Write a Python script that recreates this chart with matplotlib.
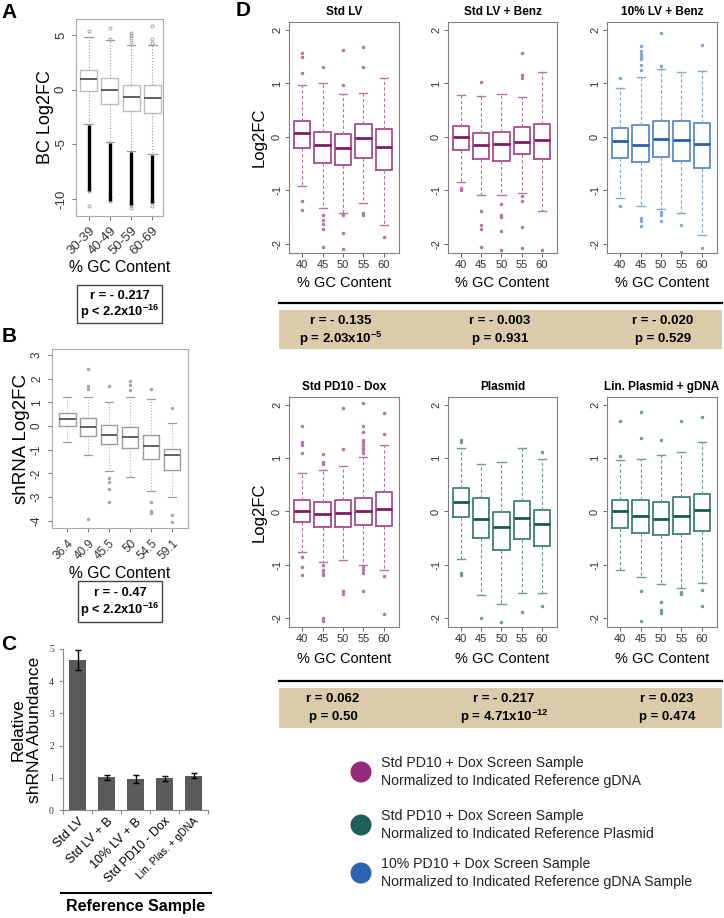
import numpy as np
import matplotlib.pyplot as plt
from matplotlib.patches import Rectangle, Circle

plt.rcParams['font.family'] = ['Liberation Sans', 'DejaVu Sans']
plt.rcParams['mathtext.fontset'] = 'custom'
plt.rcParams['mathtext.rm'] = 'Liberation Sans'
plt.rcParams['mathtext.bf'] = 'Liberation Sans:bold'

W, H = 724, 918

# ---------------- data ----------------
# Panel A - barcode log2FC by GC bin
a_labels = ['30-39', '40-49', '50-59', '60-69']
a_med = [1.0, 0.0, -0.7, -0.8]
a_q1 = [-0.1, -1.28, -1.92, -2.1]
a_q3 = [1.83, 1.07, 0.46, 0.4]
a_lo = [-3.1, -4.8, -5.6, -5.9]
a_hi = [4.8, 4.55, 4.1, 4.1]
a_dense_top = [-3.2, -4.9, -5.7, -6.0]
a_dense_bot = [-9.3, -10.2, -10.5, -10.4]
a_out = [[5.4, -9.0, -9.3, -10.6],
         [4.6, 5.6, -9.8, -10.2],
         [4.4, 4.7, 5.0, 5.2, -10.2, -10.5, -10.8],
         [4.3, 4.6, 5.8, -10.0, -10.3, -10.6]]

# Panel B - shRNA log2FC by GC
b_labels = ['36.4', '40.9', '45.5', '50', '54.5', '59.1']
b_med = [0.28, -0.04, -0.37, -0.46, -0.85, -1.22]
b_q1 = [0.01, -0.42, -0.76, -0.94, -1.41, -1.86]
b_q3 = [0.54, 0.32, 0.06, -0.04, -0.37, -0.96]
b_lo = [-0.69, -1.2, -1.9, -2.14, -2.76, -3.01]
b_hi = [1.21, 1.24, 1.0, 1.21, 1.15, 0.11]
b_out = [[],
         [1.55, 1.7, 2.4, -3.9],
         [1.7, -2.2, -2.35, -2.65, -3.2],
         [1.5, 1.75, 1.9],
         [1.55, -3.2, -3.6, -3.65],
         [0.75, -3.75, -4.05]]

# Panel C - relative shRNA abundance
c_labels = ['Std LV', 'Std LV + B', '10% LV + B', 'Std PD10 - Dox', 'Lin. Plas. + gDNA']
c_vals = [4.65, 1.01, 0.97, 0.99, 1.06]
c_err = [0.31, 0.09, 0.13, 0.08, 0.08]

# Panel D - six reference comparisons
gc_ticks = ['40', '45', '50', '55', '60']

lv_med = [0.07, -0.15, -0.2, -0.01, -0.19]
lv_q1 = [-0.21, -0.49, -0.53, -0.4, -0.61]
lv_q3 = [0.30, 0.09, 0.06, 0.24, 0.14]
lv_lo = [-0.91, -1.32, -1.43, -1.23, -1.65]
lv_hi = [0.98, 1.01, 0.8, 0.83, 1.11]
lv_out = [[1.2, 1.5, 1.57, -1.2, -1.37], [1.31, -1.45, -1.55, -1.62, -1.72, -2.05],
          [0.98, 1.62, -1.45, -1.8, -2.1], [1.3, 1.68, -1.42, -1.45], [-1.87]]

lvb_med = [0.0, -0.15, -0.13, -0.09, -0.05]
lvb_q1 = [-0.24, -0.42, -0.45, -0.31, -0.42]
lvb_q3 = [0.21, 0.08, 0.09, 0.19, 0.24]
lvb_lo = [-0.85, -1.09, -1.08, -1.05, -1.38]
lvb_hi = [0.79, 0.77, 0.8, 0.75, 1.21]
lvb_out = [[-0.95, -1.0], [1.03, -1.38, -1.65, -1.73, -2.05],
           [-1.25, -1.45, -1.5, -1.76, -2.12], [1.1, 1.15, 1.57, -1.1, -1.2, -1.68, -2.07], [-2.12]]

lv10_med = [-0.08, -0.15, -0.04, -0.06, -0.13]
lv10_q1 = [-0.39, -0.47, -0.37, -0.45, -0.58]
lv10_q3 = [0.17, 0.22, 0.29, 0.29, 0.27]
lv10_lo = [-1.14, -1.3, -1.35, -1.43, -1.84]
lv10_hi = [0.91, 1.13, 1.28, 1.22, 1.23]
lv10_out = [[1.1, -1.3], [1.25, 1.35, 1.45, 1.5, 1.55, 1.6, 1.7, -1.52, -1.57, -1.67],
            [1.33, 1.95, -1.4, -1.45, -1.57], [-1.65, -2.15], [1.72, -2.07]]

pd_med = [0.0, -0.04, -0.03, 0.0, 0.04]
pd_q1 = [-0.19, -0.29, -0.29, -0.25, -0.27]
pd_q3 = [0.21, 0.17, 0.22, 0.26, 0.36]
pd_lo = [-0.77, -0.95, -0.92, -1.0, -1.1]
pd_hi = [0.72, 0.77, 0.85, 1.02, 1.25]
pd_out = [[1.1, 1.25, 1.3, 1.6, -0.85, -1.05, -1.2],
          [0.9, 0.92, 1.08, -1.0, -1.1, -1.15, -1.2, -2.0, -2.05],
          [1.18, 1.95, -1.5, -1.55],
          [1.1, 1.15, 1.2, 1.25, 1.3, 1.35, 1.5, 1.6, 2.03, -1.05, -1.1, -1.15, -1.5],
          [1.45, 1.85, -1.22, -1.93]]

pl_med = [0.17, -0.14, -0.29, -0.13, -0.24]
pl_q1 = [-0.11, -0.49, -0.73, -0.51, -0.64]
pl_q3 = [0.44, 0.25, -0.01, 0.19, 0.02]
pl_lo = [-0.9, -1.56, -1.74, -1.53, -1.54]
pl_hi = [1.19, 0.9, 0.92, 1.2, 0.98]
pl_out = [[1.3, 1.35, -1.15, -1.2], [-2.0], [-2.08], [-1.88], [1.12, -1.77]]

lin_med = [0.0, -0.09, -0.15, -0.09, 0.03]
lin_q1 = [-0.31, -0.41, -0.44, -0.43, -0.37]
lin_q3 = [0.22, 0.22, 0.17, 0.27, 0.33]
lin_lo = [-1.09, -1.24, -1.36, -1.43, -1.34]
lin_hi = [0.96, 0.98, 1.07, 1.11, 1.3]
lin_out = [[1.05, 1.7], [1.38, 1.86, -1.5, -2.05], [1.35, -1.7, -1.85, -1.9],
           [1.7, -1.52, -1.55], [1.77, -1.47, -1.77]]

d_titles = ['Std LV', 'Std LV + Benz', '10% LV + Benz', 'Std PD10 - Dox', 'Plasmid', 'Lin. Plasmid + gDNA']
d_r = ['r = - 0.135', 'r = - 0.003', 'r = - 0.020', 'r = 0.062', 'r = - 0.217', 'r = 0.023']
d_p = ['p = 2.03x10$^{\\mathbf{-5}}$', 'p = 0.931', 'p = 0.529',
       'p = 0.50', 'p = 4.71x10$^{\\mathbf{-12}}$', 'p = 0.474']

legend_text = ['Std PD10 + Dox Screen Sample\nNormalized to Indicated Reference gDNA',
               'Std PD10 + Dox Screen Sample\nNormalized to Indicated Reference Plasmid',
               '10% PD10 + Dox Screen Sample\nNormalized to Indicated Reference gDNA Sample']

# colours: (box edge, median, whisker, legend dot)
purple = ('#a84b91', '#7d1d64', '#b873a6', '#952a7d')
teal = ('#3e7f78', '#1b5853', '#6c9c97', '#1d5f59')
blue = ('#5b8bc7', '#2a5ea8', '#83a6d3', '#2d65b0')


def fbox(x0, y0, x1, y1):
    return [x0 / W, 1 - y1 / H, (x1 - x0) / W, (y1 - y0) / H]


def make_stats(med, q1, q3, lo, hi, out):
    return [dict(med=m, q1=a, q3=b, whislo=l, whishi=h, fliers=f)
            for m, a, b, l, h, f in zip(med, q1, q3, lo, hi, out)]


def rot_yticks(ax):
    for lab in ax.get_yticklabels():
        lab.set_rotation(90)
        lab.set_va('center')


fig = plt.figure(figsize=(W / 100, H / 100), dpi=100)

# overlay for free text, lines and boxes in pixel units
ov = fig.add_axes([0, 0, 1, 1], zorder=10)
ov.set_xlim(0, W)
ov.set_ylim(H, 0)
ov.axis('off')
ov.patch.set_visible(False)

for letter, (lx, ly) in zip('ABCD', [(9, 12), (9, 337), (9, 645), (243, 10)]):
    ov.text(lx, ly, letter, fontsize=15, fontweight='bold', ha='center', va='center')

# ---------------- Panel A ----------------
axA = fig.add_axes(fbox(76, 19, 163, 216))
posA = np.arange(1, len(a_labels) + 1)
axA.vlines(posA, a_dense_bot, a_dense_top, color='black', lw=2.4, zorder=3)
axA.bxp(make_stats(a_med, a_q1, a_q3, a_lo, a_hi, a_out), positions=posA, widths=0.8,
        capwidths=0.4, manage_ticks=False,
        boxprops=dict(color='#bdbdbd', lw=1.0),
        medianprops=dict(color='#444444', lw=1.2),
        whiskerprops=dict(color='#9a9a9a', lw=0.8, ls=':'),
        capprops=dict(color='#9a9a9a', lw=0.9),
        flierprops=dict(marker='o', ms=2.2, mfc='none', mec='#9a9a9a', mew=0.6))
axA.set_xlim(0.4, 4.5)
axA.set_ylim(-11.55, 6.46)
axA.set_yticks([5, 0, -5, -10])
axA.set_yticklabels(['5', '0', '-5', '-10'])
axA.set_xticks(posA)
axA.set_xticklabels(a_labels, rotation=45, ha='right', rotation_mode='anchor')
axA.tick_params(labelsize=9.5, labelcolor='#333333', color='#777777', length=3, width=0.7)
rot_yticks(axA)
for s in axA.spines.values():
    s.set_color('#aaaaaa')
axA.set_ylabel('BC Log2FC', fontsize=13, labelpad=1)
ov.text(120, 268, '% GC Content', fontsize=11.3, ha='center', va='center')
ov.add_patch(Rectangle((77, 285), 85, 38, fill=False, ec='#444444', lw=1))
ov.text(120, 296, 'r = - 0.217', fontsize=9.3, fontweight='bold', ha='center', va='center')
ov.text(120, 312, 'p < 2.2x10$^{\\mathbf{-16}}$', fontsize=9.3, fontweight='bold', ha='center', va='center')

# ---------------- Panel B ----------------
axB = fig.add_axes(fbox(52, 349, 188, 528))
posB = np.arange(1, len(b_labels) + 1)
axB.bxp(make_stats(b_med, b_q1, b_q3, b_lo, b_hi, b_out), positions=posB, widths=0.8,
        capwidths=0.4, manage_ticks=False,
        boxprops=dict(color='#9c9c9c', lw=1.0),
        medianprops=dict(color='#555555', lw=1.3),
        whiskerprops=dict(color='#b0b0b0', lw=0.8, ls=':'),
        capprops=dict(color='#9c9c9c', lw=0.9),
        flierprops=dict(marker='o', ms=1.5, mfc='#a8a8a8', mec='#a8a8a8'))
axB.set_xlim(0.28, 6.76)
axB.set_ylim(-4.3, 3.25)
axB.set_yticks([3, 2, 1, 0, -1, -2, -3, -4])
axB.set_yticklabels(['3', '2', '1', '0', '-1', '-2', '-3', '-4'])
axB.set_xticks(posB)
axB.set_xticklabels(b_labels, rotation=45, ha='right', rotation_mode='anchor')
axB.tick_params(labelsize=8.5, labelcolor='#333333', color='#777777', length=3, width=0.7)
rot_yticks(axB)
for s in axB.spines.values():
    s.set_color('#aaaaaa')
axB.set_ylabel('shRNA Log2FC', fontsize=13.5, labelpad=1)
ov.text(120, 574, '% GC Content', fontsize=11.3, ha='center', va='center')
ov.add_patch(Rectangle((78, 581), 84, 41, fill=False, ec='#444444', lw=1))
ov.text(120, 593, 'r = - 0.47', fontsize=9.3, fontweight='bold', ha='center', va='center')
ov.text(120, 610, 'p < 2.2x10$^{\\mathbf{-16}}$', fontsize=9.3, fontweight='bold', ha='center', va='center')

# ---------------- Panel C ----------------
axC = fig.add_axes(fbox(63, 649, 208, 810))
posC = np.arange(len(c_labels))
axC.bar(posC, c_vals, width=0.6, color='#5a5a5a', yerr=c_err, capsize=2,
        error_kw=dict(elinewidth=1, ecolor='black', capthick=1))
axC.set_xlim(-0.5, len(c_labels) - 0.5)
axC.set_ylim(0, 5)
axC.set_yticks([0, 1, 2, 3, 4, 5])
axC.set_xticks(np.arange(-0.5, len(c_labels), 1))
axC.set_xticklabels([])
axC.set_xticks(posC, minor=True)
axC.set_xticklabels(c_labels, minor=True, rotation=45, ha='right', rotation_mode='anchor')
axC.tick_params(axis='x', which='minor', length=0, labelsize=9, pad=4)
axC.tick_params(axis='x', which='major', length=3, color='#888888')
axC.tick_params(axis='y', length=3, color='#888888', labelsize=7)
axC.get_xticklabels(minor=True)[-1].set_fontsize(7.5)
for lab in axC.get_yticklabels():
    lab.set_family('Liberation Serif')
    lab.set_color('#333333')
axC.spines['top'].set_visible(False)
axC.spines['right'].set_visible(False)
axC.spines['left'].set_color('#888888')
axC.spines['bottom'].set_color('#888888')
axC.set_ylabel('Relative\nshRNA Abundance', fontsize=12.5, labelpad=5, linespacing=1.15)
ov.plot([61, 211], [893, 893], color='black', lw=1.5)
ov.text(136, 907, 'Reference Sample', fontsize=11.5, fontweight='bold', ha='center', va='center')

# ---------------- Panel D ----------------
d_stats = [make_stats(lv_med, lv_q1, lv_q3, lv_lo, lv_hi, lv_out),
           make_stats(lvb_med, lvb_q1, lvb_q3, lvb_lo, lvb_hi, lvb_out),
           make_stats(lv10_med, lv10_q1, lv10_q3, lv10_lo, lv10_hi, lv10_out),
           make_stats(pd_med, pd_q1, pd_q3, pd_lo, pd_hi, pd_out),
           make_stats(pl_med, pl_q1, pl_q3, pl_lo, pl_hi, pl_out),
           make_stats(lin_med, lin_q1, lin_q3, lin_lo, lin_hi, lin_out)]
d_colors = [purple, purple, blue, purple, teal, teal]
col_x = [(289, 399), (448, 557), (607, 717)]
row_y = [(22, 253), (397, 627)]
posD = np.arange(1, 6)

for i, st in enumerate(d_stats):
    r, c = divmod(i, 3)
    x0, x1 = col_x[c]
    y0, y1 = row_y[r]
    box_c, med_c, wh_c, _ = d_colors[i]
    ax = fig.add_axes(fbox(x0, y0, x1, y1))
    ax.bxp(st, positions=posD, widths=0.8, capwidths=0.4, manage_ticks=False,
           boxprops=dict(color=box_c, lw=1.3),
           medianprops=dict(color=med_c, lw=2.0),
           whiskerprops=dict(color=wh_c, lw=0.8, ls=(0, (3, 2))),
           capprops=dict(color=wh_c, lw=1.0),
           flierprops=dict(marker='o', ms=1.5, mfc=wh_c, mec=wh_c))
    ax.set_xlim(0.35, 5.75)
    ax.set_ylim(-2.17, 2.15)
    ax.set_yticks([2, 1, 0, -1, -2])
    ax.set_yticklabels(['2', '1', '0', '-1', '-2'])
    ax.set_xticks(posD)
    ax.set_xticklabels(gc_ticks)
    ax.tick_params(labelsize=8, labelcolor='#333333', color='#666666', length=3, width=0.7, pad=2)
    rot_yticks(ax)
    for s in ax.spines.values():
        s.set_color('#808080')
    ax.set_title(d_titles[i], fontsize=8.5, fontweight='bold', pad=5)
    ax.text(0.5, -0.13 if r == 0 else -0.14, '% GC Content', transform=ax.transAxes,
            fontsize=10.5, ha='center', va='center')
    if c == 0:
        ax.set_ylabel('Log2FC', fontsize=12, labelpad=4)

# stat bands under each row of panel D
band_x = [[341, 500, 663], [333, 504, 667]]
for r, (line_y, band_y0, band_y1) in enumerate([(303, 310, 349), (681, 688, 728)]):
    ov.plot([279, 722], [line_y, line_y], color='black', lw=1.6)
    ov.add_patch(Rectangle((279, band_y0), 443, band_y1 - band_y0, color='#dccbab', lw=0))
    for c in range(3):
        cx = band_x[r][c]
        ov.text(cx, band_y0 + 11, d_r[r * 3 + c], fontsize=9.5, fontweight='bold', ha='center', va='center')
        ov.text(cx, band_y0 + 29, d_p[r * 3 + c], fontsize=9.5, fontweight='bold', ha='center', va='center')

# legend
for ly, txt, col in zip([772, 825, 873], legend_text, [purple, teal, blue]):
    ov.add_patch(Circle((361, ly), 10.5, color=col[3], lw=0))
    ov.text(381, ly, txt, fontsize=10.2, ha='left', va='center', linespacing=1.3, color='#222222')

fig.savefig('out.png', dpi=100)
